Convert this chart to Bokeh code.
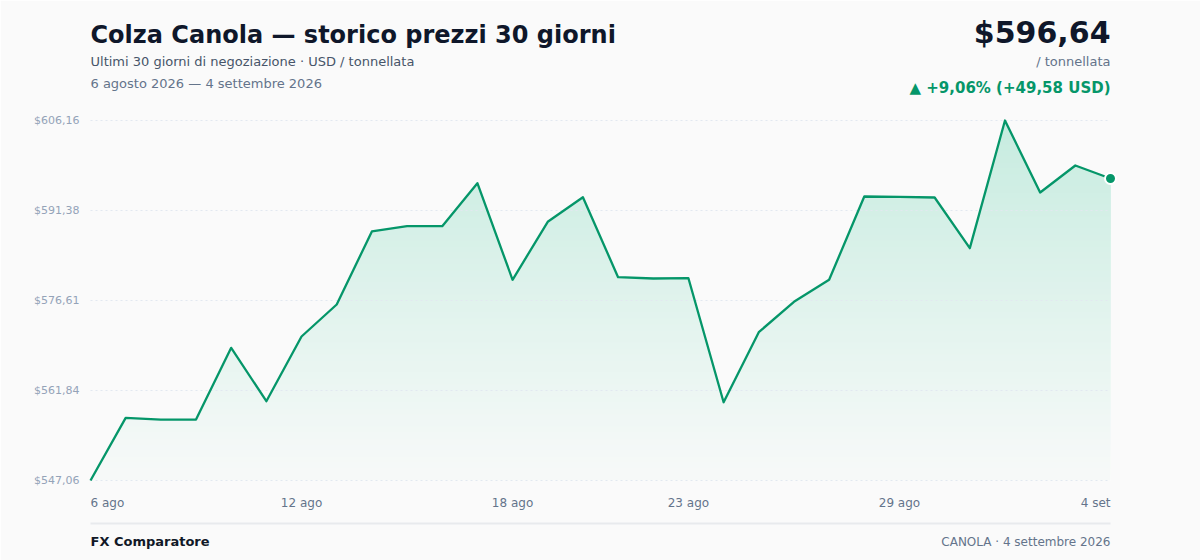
from bokeh.plotting import figure
from bokeh.models import Range1d, FixedTicker, ColumnDataSource
from bokeh.core.properties import value
from bokeh.embed import file_html
from bokeh.resources import INLINE

# ---------------- data ----------------
prices = [547.06, 557.35, 557.07, 557.07, 568.84, 560.08, 570.70, 575.95, 587.94, 588.81,
          588.81, 595.87, 580.01, 589.53, 593.57, 580.44, 580.22, 580.27, 559.91, 571.41,
          576.40, 580.01, 593.68, 593.63, 593.52, 585.20, 606.16, 594.34, 598.77, 596.64]
day_index = list(range(len(prices)))
x_tick_index = [0, 6, 12, 17, 23, 29]
x_tick_labels = ["6 ago", "12 ago", "18 ago", "23 ago", "29 ago", "4 set"]
y_tick_labels = ["$547,06", "$561,84", "$576,61", "$591,38", "$606,16"]

title_text = "Colza Canola — storico prezzi 30 giorni"
subtitle_text = "Ultimi 30 giorni di negoziazione · USD / tonnellata"
period_text = "6 agosto 2026 — 4 settembre 2026"
price_text = "$596,64"
unit_text = "/ tonnellata"
change_text = "▲ +9,06% (+49,58 USD)"
footer_left = "FX Comparatore"
footer_right = "CANOLA · 4 settembre 2026"

# ---------------- styling ----------------
FONT = "DejaVu Sans"
BG = "#fafafa"
LINE_GREEN = "#059669"
FILL_GREEN = (16, 185, 129)
DARK = "#0f172a"
SLATE6 = "#475569"
SLATE5 = "#64748b"
SLATE4 = "#94a3b8"
FW, FH = 1020, 360   # frame size in px

ymin, ymax = min(prices), max(prices)
n = len(prices)
span = ymax - ymin
yticks = [ymin + k * span / 4 for k in range(5)]

p = figure(width=1200, height=560, output_backend="svg", toolbar_location=None,
           x_range=Range1d(0, n - 1), y_range=Range1d(ymin, ymax),
           min_border_left=90, min_border_right=90, min_border_top=120, min_border_bottom=80,
           background_fill_color=BG, border_fill_color=BG, outline_line_color=None)
p.extra_x_ranges = {"px": Range1d(0, FW)}
p.extra_y_ranges = {"px": Range1d(0, FH)}


def blend(a):
    bg = (250, 250, 250)
    c = [round(bg[i] + (FILL_GREEN[i] - bg[i]) * a) for i in range(3)]
    return "#%02x%02x%02x" % tuple(c)


# gradient fill under the line: nested opaque bands, then masked above the line
N = 60
bots = [ymin + k * span / N for k in range(N)]
cols = [blend(0.015 + 0.205 * (k / (N - 1)) ** 1.1) for k in range(N)]
p.quad(left=[0] * N, right=[n - 1] * N, bottom=bots, top=[ymax] * N,
       fill_color=cols, line_color=None)
dx = 3 * (n - 1) / FW     # 3 px in data units
dy = 3 * span / FH
mask_x = [-dx, -dx] + day_index + [n - 1 + dx, n - 1 + dx]
mask_y = [ymax + dy, prices[0]] + prices + [prices[-1], ymax + dy]
mask = p.patch(mask_x, mask_y, fill_color=BG, line_color=None)
mask.level = "overlay"

# dotted horizontal grid lines at the y ticks
p.xgrid.visible = False
p.ygrid.visible = False
g = p.segment(x0=[0] * len(yticks), x1=[n - 1] * len(yticks), y0=yticks, y1=yticks,
              line_color="#e2e8f0", line_dash="2 3", line_width=1)
g.level = "overlay"

ln = p.line(day_index, prices, line_color=LINE_GREEN, line_width=2.3, line_join="round")
ln.level = "overlay"
dot = p.scatter([day_index[-1]], [prices[-1]], size=11, fill_color=LINE_GREEN,
                line_color="white", line_width=2)
dot.level = "overlay"

# axes
p.xaxis.visible = False
ya = p.yaxis[0]
ya.ticker = FixedTicker(ticks=yticks)
ya.major_label_overrides = {t: lab for t, lab in zip(yticks, y_tick_labels)}
ya.axis_line_color = None
ya.major_tick_line_color = None
ya.minor_tick_line_color = None
ya.major_label_standoff = 5
ya.major_label_text_font = FONT
ya.major_label_text_font_size = "11px"
ya.major_label_text_color = SLATE4

# x tick labels (positioned by the x scale)
aligns = ["left"] + ["center"] * (len(x_tick_index) - 2) + ["right"]
xsrc = ColumnDataSource(dict(x=x_tick_index, y=[ymin] * len(x_tick_index),
                             text=x_tick_labels, align=aligns))
xt = p.text(x="x", y="y", text="text", source=xsrc, text_align="align",
            text_baseline="middle", y_offset=22, text_font=value(FONT),
            text_font_size="12px", text_color=SLATE5)
xt.level = "overlay"


def lab(x, y, text, size, color, align="left", bold=False):
    r = p.text(x=[x], y=[y], text=[text], x_range_name="px", y_range_name="px",
               text_align=align, text_baseline="middle", text_font=value(FONT),
               text_font_size=size, text_color=color,
               text_font_style="bold" if bold else "normal")
    r.level = "overlay"


lab(0, 446, title_text, "24px", DARK, bold=True)
lab(0, 419, subtitle_text, "13px", SLATE6)
lab(0, 397, period_text, "13px", SLATE5)
lab(FW, 448, price_text, "30px", DARK, align="right", bold=True)
lab(FW, 419, unit_text, "13px", SLATE5, align="right")
lab(FW, 393, change_text, "15px", LINE_GREEN, align="right", bold=True)
lab(0, -61, footer_left, "13px", "#111827", bold=True)
lab(FW, -61, footer_right, "12px", SLATE5, align="right")

sep = p.segment(x0=[0], x1=[FW], y0=[-43], y1=[-43], x_range_name="px", y_range_name="px",
                line_color="#e8eaed", line_width=2)
sep.level = "overlay"

open("out.html", "w").write(file_html(p, INLINE))
